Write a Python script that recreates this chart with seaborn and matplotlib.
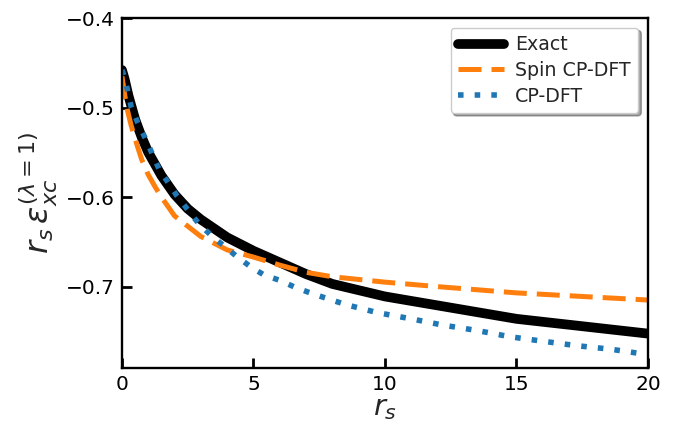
import numpy as np
import pandas as pd
import matplotlib
matplotlib.use("Agg")
import matplotlib.pyplot as plt
import seaborn as sns

# ---- data ----
rs_exact = [0, 0.1, 0.25, 0.5, 0.75, 1, 1.5, 2, 2.5, 3, 4, 5, 6, 7, 8, 10, 15, 20]
e_exact = [-0.458, -0.468, -0.487, -0.513, -0.533, -0.550, -0.576, -0.597, -0.613,
           -0.625, -0.645, -0.660, -0.673, -0.686, -0.697, -0.711, -0.736, -0.7525]

rs_spin = [0, 0.1, 0.2, 0.35, 0.5, 0.75, 1, 1.25, 1.5, 2, 3, 4, 5, 6, 7, 8, 10, 12, 15, 20]
e_spin = [-0.465, -0.485, -0.502, -0.520, -0.535, -0.558, -0.575, -0.588, -0.600, -0.621,
          -0.644, -0.659, -0.667, -0.676, -0.684, -0.689, -0.695, -0.700, -0.707, -0.715]

rs_cp = [0, 0.1, 0.35, 0.6, 0.9, 1.4, 2.1, 2.9, 3.4, 4.35, 4.9, 5.4, 6, 6.6, 7.25, 8.5,
         9.7, 11, 12.2, 13.5, 14.75, 16, 17.3, 18.6, 20]
e_cp = [-0.458, -0.466, -0.499, -0.517, -0.535, -0.568, -0.599, -0.629, -0.643, -0.666,
        -0.678, -0.687, -0.693, -0.701, -0.708, -0.720, -0.729, -0.736, -0.743, -0.749,
        -0.756, -0.761, -0.766, -0.770, -0.776]

labels = ["Exact", "Spin CP-DFT", "CP-DFT"]
x_ticks = [0, 5, 10, 15, 20]
y_ticks = [-0.4, -0.5, -0.6, -0.7]

sns.set_style("ticks")
plt.rcParams['font.family'] = ['DejaVu Sans']
plt.rcParams['mathtext.fontset'] = 'dejavusans'

fig = plt.figure(figsize=(6.89, 4.30), dpi=100)
ax = fig.add_axes([0.177, 0.144, 0.7635, 0.814])

sns.lineplot(x=rs_exact, y=e_exact, ax=ax, color="black", lw=7, label=labels[0])
sns.lineplot(x=rs_spin, y=e_spin, ax=ax, color="#ff7f0e", lw=3.6,
             linestyle=(0, (4.6, 2.0)), label=labels[1])
sns.lineplot(x=rs_cp, y=e_cp, ax=ax, color="#1f77b4", lw=4.0,
             linestyle=(0, (1, 2.0)), label=labels[2])

ax.set_xlim(0, 20)
ax.set_ylim(-0.791, -0.4)
ax.set_xticks(x_ticks)
ax.set_yticks(y_ticks)
ax.set_yticklabels(["\u22120.4", "\u22120.5", "\u22120.6", "\u22120.7"])
ax.tick_params(direction="in", length=7, width=2, labelsize=14.5, colors="black",
               top=False, right=False, pad=5)
for sp in ax.spines.values():
    sp.set_visible(True)
    sp.set_linewidth(1.7)
    sp.set_color("black")

ax.set_xlabel(r"$r_s$", fontsize=21, labelpad=0)
ax.set_ylabel(r"$r_s\,\varepsilon_{xc}^{(\lambda=1)}$", fontsize=23, labelpad=4)

leg = ax.legend(loc="upper right", fontsize=13.7, frameon=True, fancybox=True,
                shadow=True, handlelength=2.4, handletextpad=0.6,
                borderaxespad=0.5, labelspacing=0.35)
leg.get_frame().set_edgecolor("#cccccc")

fig.savefig("out.png", dpi=100)
